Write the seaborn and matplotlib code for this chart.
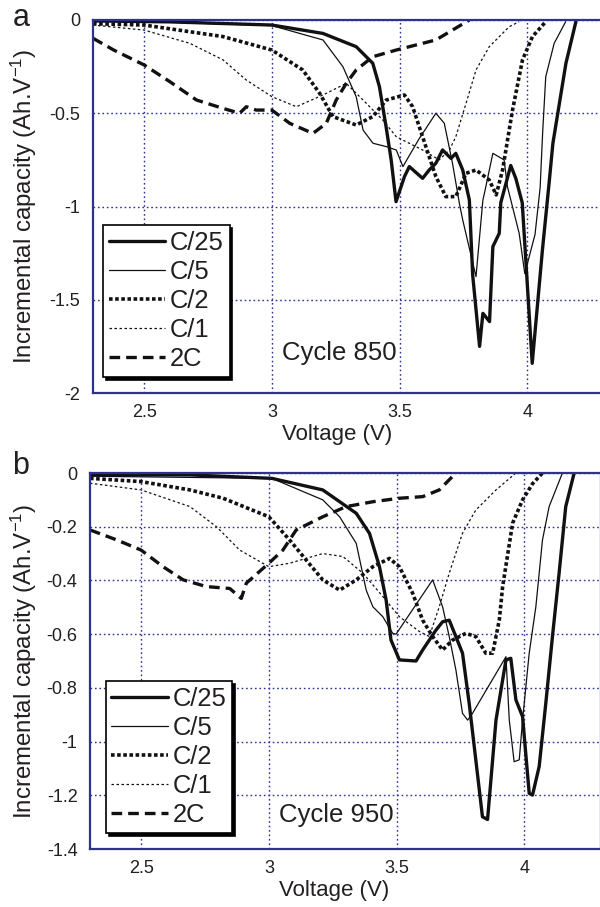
import numpy as np
import pandas as pd
import matplotlib
matplotlib.use("Agg")
import matplotlib.pyplot as plt
from matplotlib.lines import Line2D
import seaborn as sns

# ---------------- data ----------------
RATES = ["C/25", "C/5", "C/2", "C/1", "2C"]

# Panel a : cycle 850
A_C25_V = [2.3, 2.6, 3.0, 3.2, 3.33, 3.395, 3.421, 3.447, 3.467, 3.486, 3.519, 3.538, 3.59, 3.616, 3.642,
           3.668, 3.701, 3.72, 3.747, 3.773, 3.786, 3.813, 3.826, 3.852, 3.865, 3.89, 3.896, 3.935, 3.955,
           3.98, 4.019, 4.059, 4.085, 4.1, 4.151, 4.19]
A_C25_Y = [-0.005, -0.01, -0.027, -0.072, -0.143, -0.232, -0.357, -0.572, -0.75, -0.974, -0.84, -0.786,
           -0.849, -0.804, -0.768, -0.697, -0.742, -0.715, -0.804, -0.965, -1.367, -1.75, -1.573, -1.617,
           -1.215, -1.144, -0.98, -0.78, -0.85, -0.98, -1.841, -1.233, -0.876, -0.661, -0.232, -0.009]

A_C5_V = [2.3, 2.6, 3.0, 3.2, 3.278, 3.33, 3.357, 3.396, 3.448, 3.487, 3.513, 3.575, 3.642, 3.675, 3.707,
          3.734, 3.747, 3.799, 3.826, 3.832, 3.865, 3.909, 3.922, 3.968, 3.99, 4.03, 4.05, 4.06, 4.072,
          4.105, 4.15]
A_C5_Y = [-0.005, -0.012, -0.03, -0.107, -0.25, -0.411, -0.59, -0.661, -0.679, -0.697, -0.786, -0.64, -0.5,
          -0.554, -0.768, -0.983, -1.072, -1.376, -0.965, -0.929, -0.715, -0.75, -0.893, -1.144, -1.36,
          -1.15, -0.9, -0.6, -0.304, -0.125, -0.009]

A_C2_V = [2.3, 2.5, 2.809, 3.0, 3.121, 3.187, 3.239, 3.33, 3.395, 3.448, 3.519, 3.551, 3.59, 3.642, 3.681,
          3.72, 3.76, 3.799, 3.851, 3.878, 3.903, 3.942, 3.981, 4.02, 4.072]
A_C2_Y = [-0.02, -0.027, -0.089, -0.161, -0.268, -0.393, -0.518, -0.563, -0.518, -0.429, -0.402, -0.465,
          -0.626, -0.84, -0.947, -0.947, -0.822, -0.804, -0.858, -0.938, -0.804, -0.483, -0.214, -0.089,
          -0.009]

A_C1_V = [2.3, 2.5, 2.679, 2.809, 2.9, 3.0, 3.096, 3.2, 3.291, 3.357, 3.434, 3.487, 3.59, 3.655, 3.695,
          3.72, 3.76, 3.799, 3.851, 3.929, 3.968]
A_C1_Y = [-0.027, -0.054, -0.125, -0.214, -0.322, -0.411, -0.465, -0.402, -0.34, -0.429, -0.536, -0.626,
          -0.697, -0.75, -0.697, -0.626, -0.447, -0.268, -0.143, -0.036, -0.009]

A_2C_V = [2.3, 2.381, 2.5, 2.601, 2.705, 2.809, 2.874, 2.9, 2.939, 3.0, 3.07, 3.161, 3.213, 3.252, 3.291,
          3.33, 3.395, 3.487, 3.59, 3.642, 3.707, 3.773]
A_2C_Y = [-0.098, -0.161, -0.241, -0.331, -0.429, -0.474, -0.5, -0.465, -0.483, -0.483, -0.554, -0.608,
          -0.554, -0.429, -0.34, -0.268, -0.197, -0.161, -0.125, -0.107, -0.054, 0.0]

# Panel b : cycle 950
B_C25_V = [2.3, 2.69, 3.012, 3.211, 3.342, 3.394, 3.433, 3.459, 3.478, 3.511, 3.576, 3.602, 3.654, 3.68,
           3.706, 3.732, 3.758, 3.784, 3.81, 3.836, 3.856, 3.889, 3.928, 3.947, 3.967, 3.993, 4.019, 4.032,
           4.058, 4.084, 4.11, 4.136, 4.162, 4.195]
B_C25_Y = [-0.007, -0.007, -0.02, -0.063, -0.15, -0.225, -0.349, -0.473, -0.622, -0.696, -0.7, -0.659,
           -0.585, -0.554, -0.548, -0.609, -0.671, -0.857, -1.068, -1.28, -1.29, -0.92, -0.696, -0.69,
           -0.845, -0.907, -1.193, -1.199, -1.093, -0.857, -0.609, -0.373, -0.125, 0.0]

B_C5_V = [2.3, 3.012, 3.211, 3.277, 3.342, 3.381, 3.407, 3.446, 3.485, 3.498, 3.641, 3.68, 3.706, 3.732,
          3.758, 3.778, 3.797, 3.928, 3.941, 3.96, 3.98, 3.993, 4.019, 4.045, 4.071, 4.097, 4.149]
B_C5_Y = [-0.012, -0.02, -0.1, -0.163, -0.262, -0.436, -0.498, -0.535, -0.597, -0.6, -0.398, -0.498,
          -0.609, -0.733, -0.895, -0.92, -0.895, -0.684, -0.92, -1.075, -1.068, -0.92, -0.671, -0.498,
          -0.249, -0.125, 0.0]

B_C2_V = [2.3, 2.5, 2.691, 2.821, 3.0, 3.081, 3.146, 3.211, 3.277, 3.342, 3.407, 3.472, 3.511, 3.563,
          3.602, 3.641, 3.68, 3.719, 3.771, 3.81, 3.849, 3.876, 3.902, 3.915, 3.954, 3.993, 4.032, 4.071]
B_C2_Y = [-0.02, -0.032, -0.063, -0.094, -0.163, -0.249, -0.324, -0.398, -0.436, -0.398, -0.349, -0.318,
          -0.349, -0.448, -0.548, -0.609, -0.659, -0.622, -0.597, -0.609, -0.671, -0.671, -0.547, -0.423,
          -0.187, -0.1, -0.04, 0.0]

B_C1_V = [2.3, 2.5, 2.691, 2.795, 2.886, 3.0, 3.081, 3.211, 3.29, 3.368, 3.446, 3.511, 3.589, 3.628,
          3.667, 3.706, 3.758, 3.81, 3.889, 3.967]
B_C1_Y = [-0.038, -0.063, -0.125, -0.2, -0.287, -0.349, -0.336, -0.3, -0.311, -0.373, -0.46, -0.535,
          -0.59, -0.609, -0.498, -0.373, -0.224, -0.138, -0.063, 0.0]

B_2C_V = [2.3, 2.404, 2.5, 2.586, 2.665, 2.756, 2.847, 2.892, 2.912, 3.0, 3.055, 3.107, 3.211, 3.303,
          3.407, 3.511, 3.602, 3.667, 3.732]
B_2C_Y = [-0.212, -0.249, -0.287, -0.349, -0.398, -0.423, -0.43, -0.467, -0.41, -0.336, -0.287, -0.212,
          -0.163, -0.125, -0.107, -0.094, -0.088, -0.063, 0.0]

X_TICKS = [2.5, 3.0, 3.5, 4.0]
X_TICKLABELS = ["2.5", "3", "3.5", "4"]
A_Y_TICKS = [0, -0.5, -1, -1.5, -2]
A_Y_TICKLABELS = ["0", "-0.5", "-1", "-1.5", "-2"]
B_Y_TICKS = [0, -0.2, -0.4, -0.6, -0.8, -1.0, -1.2, -1.4]
B_Y_TICKLABELS = ["0", "-0.2", "-0.4", "-0.6", "-0.8", "-1", "-1.2", "-1.4"]

# ---------------- styling ----------------
sns.set_theme(style="white")
plt.rcParams["font.family"] = ["Liberation Sans", "DejaVu Sans"]
plt.rcParams["mathtext.default"] = "regular"
plt.rcParams["axes.unicode_minus"] = False

BLUE = "#2e3192"
INK = "#231f20"
STYLES = {
    "C/25": dict(lw=2.4, ls="-"),
    "C/5": dict(lw=0.9, ls="-"),
    "C/2": dict(lw=2.6, ls=(0, (1.0, 0.7))),
    "C/1": dict(lw=0.9, ls=(0, (2.0, 2.0))),
    "2C": dict(lw=2.4, ls=(0, (3.2, 1.8))),
}


def make_df(series):
    frames = []
    for rate, (v, y) in zip(RATES, series):
        frames.append(pd.DataFrame({"Voltage": v, "IC": y, "Rate": rate}))
    return pd.concat(frames, ignore_index=True)


dfa = make_df([(A_C25_V, A_C25_Y), (A_C5_V, A_C5_Y), (A_C2_V, A_C2_Y), (A_C1_V, A_C1_Y), (A_2C_V, A_2C_Y)])
dfb = make_df([(B_C25_V, B_C25_Y), (B_C5_V, B_C5_Y), (B_C2_V, B_C2_Y), (B_C1_V, B_C1_Y), (B_2C_V, B_2C_Y)])

W, H = 600, 907
fig = plt.figure(figsize=(6.0, 9.07), dpi=100)
ax_a = fig.add_axes([93 / W, (H - 393) / H, 511 / W, 373 / H])
ax_b = fig.add_axes([90 / W, (H - 849) / H, 511 / W, 376 / H])


def draw(ax, df, ylim, yticks, yticklabels, cycle_text, text_xy, letter, letter_y, leg_anchor, ylab_x):
    for rate in RATES:
        sub = df[df["Rate"] == rate]
        st = STYLES[rate]
        sns.lineplot(data=sub, x="Voltage", y="IC", ax=ax, color="#111111", linewidth=st["lw"],
                     linestyle=st["ls"], sort=False, estimator=None, legend=False)
    ax.set_xlim(2.3, 4.3)
    ax.set_ylim(*ylim)
    ax.set_xticks(X_TICKS)
    ax.set_xticklabels(X_TICKLABELS)
    ax.set_yticks(yticks)
    ax.set_yticklabels(yticklabels)
    ax.grid(True, color=BLUE, linestyle=(0, (1.2, 2.0)), linewidth=1.0)
    ax.set_axisbelow(True)
    for s in ax.spines.values():
        s.set_color(BLUE)
        s.set_linewidth(1.6)
    ax.tick_params(axis="both", length=0, labelsize=13, colors=INK)
    ax.tick_params(axis="x", pad=8)
    ax.tick_params(axis="y", pad=9)
    ax.set_xlabel("Voltage (V)", fontsize=16, color=INK)
    ax.set_ylabel("Incremental capacity (Ah.V$^{-1}$)", fontsize=17.3, color=INK)
    ax.xaxis.set_label_coords(0.478, -0.083)
    ax.yaxis.set_label_coords(ylab_x, 0.5)
    ax.text(text_xy[0], text_xy[1], cycle_text, fontsize=18.5, color=INK, ha="left", va="center")
    handles = []
    for rate in RATES:
        st = STYLES[rate]
        handles.append(Line2D([], [], color="#111111", lw=st["lw"], ls=st["ls"]))
    leg = ax.legend(handles, RATES, loc="lower left", bbox_to_anchor=leg_anchor, borderaxespad=0,
                    fontsize=18.4, frameon=True, fancybox=False, shadow={"color": "black", "alpha": 1},
                    handlelength=2.2, handletextpad=0.2, labelspacing=0.2, borderpad=0.22)
    leg.get_frame().set_edgecolor("black")
    leg.get_frame().set_linewidth(1.2)
    for t in leg.get_texts():
        t.set_color(INK)
    fig.text(21 / W, 1 - letter_y / H, letter, fontsize=22, color=INK, ha="center", va="center")


draw(ax_a, dfa, (-2, 0), A_Y_TICKS, A_Y_TICKLABELS, "Cycle 850", (3.04, -1.785), "a", 18,
     (0.02, 0.043), -0.106)
draw(ax_b, dfb, (-1.4, 0), B_Y_TICKS, B_Y_TICKLABELS, "Cycle 950", (3.04, -1.273), "b", 466,
     (0.031, 0.043), -0.1)

fig.savefig("out.png", dpi=100)
